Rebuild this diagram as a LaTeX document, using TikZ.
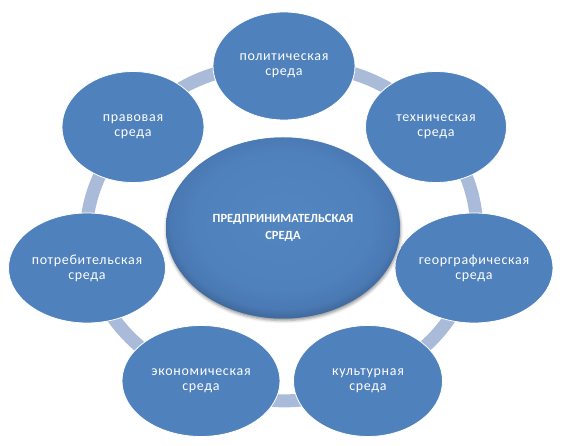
\documentclass[tikz,border=0pt]{standalone}
\usepackage{fontspec}
\newfontfamily\carl{Carlito}
\newfontfamily\carls{Carlito}[LetterSpace=5]
\usetikzlibrary{shapes.geometric,shadows.blur}
\pgfdeclarelayer{bg}
\pgfsetlayers{bg,main}
\definecolor{nodeblue}{HTML}{4F81BD}
\definecolor{ringc}{HTML}{AABBD9}
\definecolor{cinner}{HTML}{5385C1}
\definecolor{cmid}{HTML}{4F81BD}
\definecolor{cedge}{HTML}{4A79B3}
\definecolor{crim}{HTML}{3D6496}
\pgfdeclareradialshading{ctrshade}{\pgfpoint{0bp}{3bp}}{color(0bp)=(cinner); color(19bp)=(cmid); color(24bp)=(cedge); color(27bp)=(crim); color(50bp)=(crim)}
\begin{document}
\begin{tikzpicture}[x=1pt,y=-1pt,
  env/.style={ellipse, fill=nodeblue, draw=white, line width=0.8pt, inner sep=0pt,
    text=white, align=center, font=\carls\fontsize{14}{15}\selectfont},
  ringbar/.style={draw=ringc, line width=13pt}]
\useasboundingbox (0,0) rectangle (566,446);
\node[env, minimum width=142pt, minimum height=108pt] (pol) at (284,66) {политическая\\среда};
\node[env, minimum width=141pt, minimum height=111pt] (tech) at (436,127) {техническая\\среда};
\node[env, minimum width=158pt, minimum height=110pt] (geo) at (474,268) {георграфическая\\среда};
\node[env, minimum width=149pt, minimum height=111pt] (cult) at (368,381) {культурная\\среда};
\node[env, minimum width=158pt, minimum height=111pt] (econ) at (201,381) {экономическая\\среда};
\node[env, minimum width=157pt, minimum height=110pt] (cons) at (87,268) {потребительская\\среда};
\node[env, minimum width=142pt, minimum height=111pt] (legal) at (133,127) {правовая\\среда};
\node[env, draw=none, shading=ctrshade, minimum width=234pt, minimum height=181pt,
  font=\carl\bfseries\fontsize{12.5}{17}\selectfont,
  blur shadow={shadow xshift=0.5pt, shadow yshift=-2pt, shadow blur radius=3pt, shadow opacity=45}]
  (ctr) at (283,228) {ПРЕДПРИНИМАТЕЛЬСКАЯ\\СРЕДА};
\begin{pgfonlayer}{bg}
\draw[ringbar] (pol.center) to[bend left=24] (tech.center);
\draw[ringbar] (tech.center) to[bend left=24] (geo.center);
\draw[ringbar] (geo.center) to[bend left=24] (cult.center);
\draw[ringbar] (cult.center) to[bend left=24] (econ.center);
\draw[ringbar] (econ.center) to[bend left=24] (cons.center);
\draw[ringbar] (cons.center) to[bend left=24] (legal.center);
\draw[ringbar] (legal.center) to[bend left=24] (pol.center);
\end{pgfonlayer}
\end{tikzpicture}
\end{document}
